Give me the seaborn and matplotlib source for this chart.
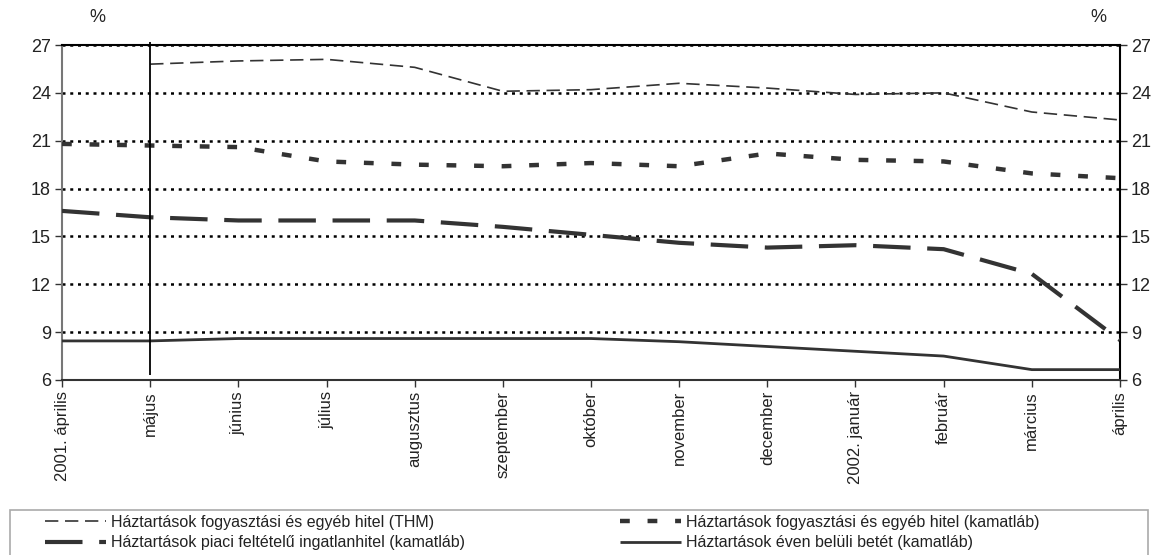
import matplotlib
matplotlib.use("Agg")
import matplotlib.pyplot as plt
from matplotlib.patches import Rectangle
import numpy as np
import pandas as pd
import seaborn as sns

months = ["2001. április", "május", "június", "július", "augusztus", "szeptember",
          "október", "november", "december", "2002. január", "február", "március", "április"]

thm = [np.nan, 25.8, 26.0, 26.1, 25.6, 24.1, 24.2, 24.6, 24.3, 23.9, 24.0, 22.8, 22.3]
fogy_kamat = [20.8, 20.7, 20.6, 19.7, 19.5, 19.4, 19.6, 19.4, 20.2, 19.8, 19.7, 18.95, 18.65]
ingatlan = [16.6, 16.2, 16.0, 16.0, 16.0, 15.6, 15.1, 14.6, 14.3, 14.45, 14.2, 12.65, 8.5]
betet = [8.45, 8.45, 8.6, 8.6, 8.6, 8.6, 8.6, 8.4, 8.1, 7.8, 7.5, 6.65, 6.65]

names = ["Háztartások fogyasztási és egyéb hitel (THM)",
         "Háztartások piaci feltételű ingatlanhitel (kamatláb)",
         "Háztartások fogyasztási és egyéb hitel (kamatláb)",
         "Háztartások éven belüli betét (kamatláb)"]
yticks = [6, 9, 12, 15, 18, 21, 24, 27]
marker_month = "május"

sns.set_style("white")
plt.rcParams['font.family'] = ['Liberation Sans', 'DejaVu Sans']

W, H = 1157, 555
fig = plt.figure(figsize=(W / 100, H / 100), dpi=100)
ax = fig.add_axes([62 / W, 1 - 380 / H, (1120 - 62) / W, (380 - 45) / H])

x = np.arange(len(months))
df = pd.DataFrame({"x": x, "thm": thm, "fk": fogy_kamat, "ing": ingatlan, "bet": betet})

col = "#333333"
# grid
for v in yticks[1:]:
    ax.axhline(v, color="black", lw=1.8, ls=(0, (1.2, 1.9)), zorder=1)

sns.lineplot(data=df, x="x", y="thm", ax=ax, color=col, lw=1.2)
ax.lines[-1].set_dashes((8, 4))
sns.lineplot(data=df, x="x", y="ing", ax=ax, color=col, lw=3)
ax.lines[-1].set_dashes((9, 4))
sns.lineplot(data=df, x="x", y="fk", ax=ax, color=col, lw=3.2)
ax.lines[-1].set_dashes((2.2, 4.0))
sns.lineplot(data=df, x="x", y="bet", ax=ax, color=col, lw=2)
series_lines = ax.lines[-4:]
for ln in series_lines:
    ln.set_zorder(3)
    ln.set_solid_capstyle("butt")
    ln.set_dash_capstyle("butt")

mi = months.index(marker_month)
ax.vlines(mi, 6.3, 27.2, color="black", lw=1.3, clip_on=False, zorder=4)

ax.set_xlim(0, len(months) - 1)
ax.set_ylim(6, 27)
ax.set_xticks(x)
ax.set_xticklabels(months, rotation=90, fontsize=12, color="#222222")
ax.set_yticks(yticks)
ax.set_yticklabels([str(v) for v in yticks], fontsize=13, color="#222222")
ax.set_xlabel("")
ax.set_ylabel("")
ax.tick_params(axis="x", direction="out", length=5, width=1, color="#333333", pad=3, bottom=True)
ax.tick_params(axis="y", direction="out", length=5, width=1, color="#333333", pad=3,
               left=True, right=True, labelright=True)

ax.spines["left"].set_color("#777777")
ax.spines["left"].set_linewidth(1.5)
ax.spines["bottom"].set_color("#333333")
ax.spines["bottom"].set_linewidth(1.5)
ax.spines["right"].set_color("black")
ax.spines["right"].set_linewidth(1.5)
ax.spines["top"].set_color("black")
ax.spines["top"].set_linewidth(1.5)

fig.text(97 / W, 1 - 18 / H, "%", fontsize=13, ha="center", va="center", color="#222222")
fig.text(1098 / W, 1 - 18 / H, "%", fontsize=13, ha="center", va="center", color="#222222")

# legend box
fig.patches.append(Rectangle((10 / W, -0.05), (1148 - 10) / W, 0.05 + 1 - 510 / H,
                             transform=fig.transFigure, fill=False, edgecolor="#aaaaaa", lw=1.2))
leg = fig.legend(series_lines, names, loc="upper left", bbox_to_anchor=(45 / W, 1 - 515 / H),
                 ncol=2, frameon=False, fontsize=11.5, handlelength=3.8, handletextpad=0.35,
                 columnspacing=9.7, labelspacing=0.32, borderpad=0, borderaxespad=0)
for t in leg.get_texts():
    t.set_color("#222222")

fig.savefig("out.png", dpi=100)
